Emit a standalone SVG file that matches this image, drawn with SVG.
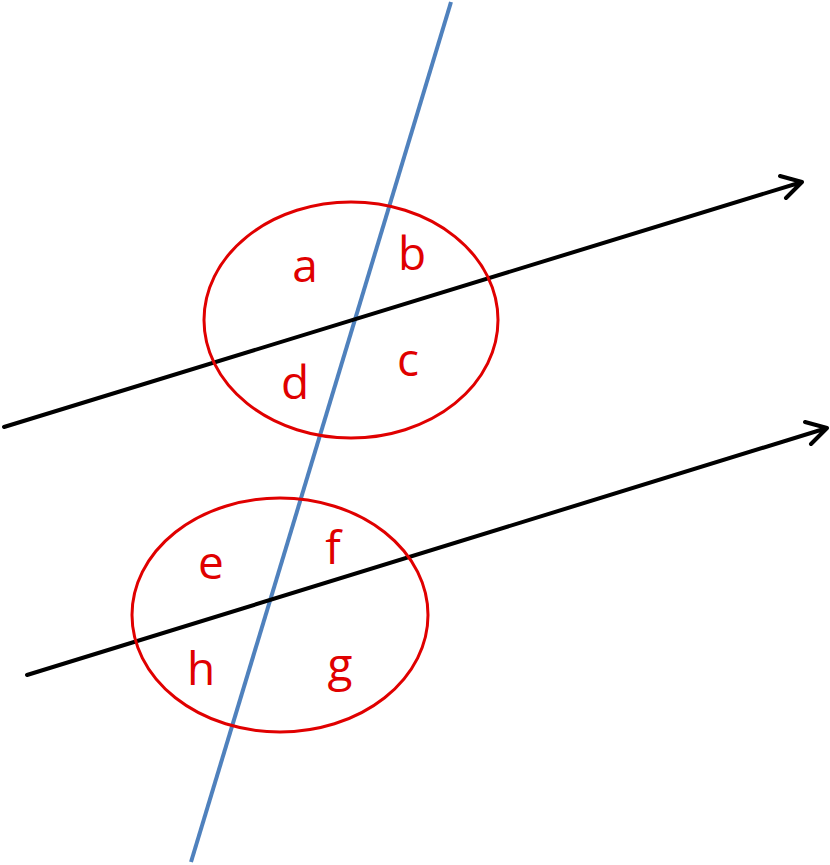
<svg xmlns="http://www.w3.org/2000/svg" width="830" height="865" viewBox="0 0 830 865">
<style>
.t{font-family:"Open Sans","Liberation Sans",sans-serif;font-size:46px;fill:#e00000;text-anchor:middle}
.e{fill:none;stroke:#e00000;stroke-width:3}
.k{fill:none;stroke:#000;stroke-width:4;stroke-linecap:round;stroke-linejoin:round}
</style>
<g id="connectors">
<line x1="451" y1="2" x2="191" y2="862" stroke="#4f81bd" stroke-width="4"/>
<path class="k" d="M4 427 L802 182 M780 176 L802 182 L786 198"/>
<path class="k" d="M27 675 L827 428 M805 422 L827 428 L811 444"/>
</g>
<g id="ellipse1"><ellipse class="e" cx="351" cy="320" rx="147" ry="118"/></g>
<g id="ellipse2"><ellipse class="e" cx="280" cy="615" rx="148" ry="117"/></g>
<g id="labels">
<text class="t" x="305" y="282">a</text>
<text class="t" x="412" y="270">b</text>
<text class="t" x="408" y="376">c</text>
<text class="t" x="295" y="399">d</text>
<text class="t" x="211" y="579">e</text>
<text class="t" x="333" y="564">f</text>
<text class="t" x="340" y="681">g</text>
<text class="t" x="201" y="685">h</text>
</g>
</svg>
